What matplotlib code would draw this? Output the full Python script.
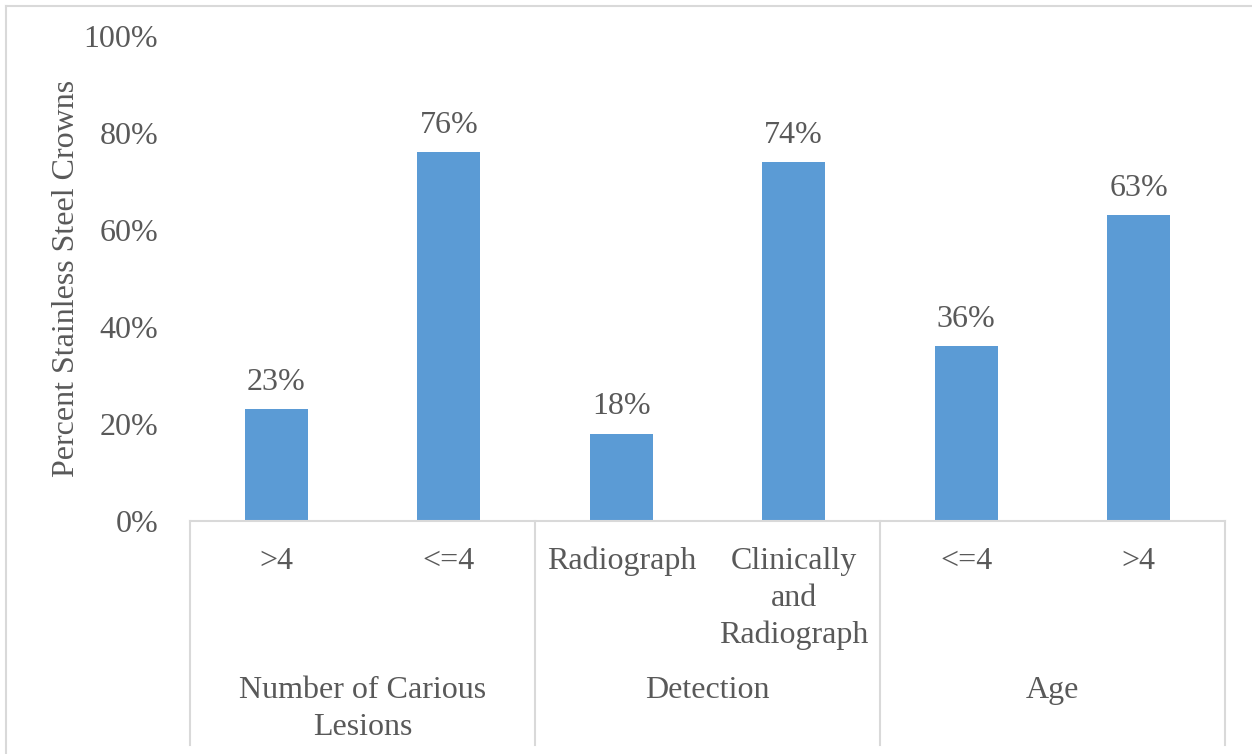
import matplotlib.pyplot as plt
from matplotlib.transforms import blended_transform_factory

plt.rcParams['font.family'] = ['Liberation Serif', 'DejaVu Serif']

groups = ["Number of Carious\nLesions", "Detection", "Age"]
categories = [">4", "<=4", "Radiograph", "Clinically\nand\nRadiograph", "<=4", ">4"]
values = [0.23, 0.76, 0.18, 0.74, 0.36, 0.63]
per_group = 2
yticks = [0, 0.2, 0.4, 0.6, 0.8, 1.0]

bar_color = "#5B9BD5"
text_color = "#595959"
line_color = "#D9D9D9"
fs = 23

W, H = 1252, 754
fig = plt.figure(figsize=(W / 100, H / 100), dpi=100)
left, right, top, bottom = 190, 1225, 36, 521
ax = fig.add_axes([left / W, 1 - bottom / H, (right - left) / W, (bottom - top) / H])

x = list(range(len(categories)))
ax.bar(x, values, width=0.365, color=bar_color, zorder=2)
ax.set_xlim(-0.5, len(categories) - 0.5)
ax.set_ylim(0, 1)

ax.set_yticks(yticks)
ax.set_yticklabels([f"{int(round(t * 100))}%" for t in yticks], fontsize=fs, color=text_color)
ax.tick_params(axis='y', length=0, pad=23)
ax.set_xticks([])
for s in ax.spines.values():
    s.set_visible(False)

ax.set_ylabel("Percent Stainless Steel Crowns", fontsize=fs, color=text_color, labelpad=2)

# value labels over each bar
for xi, v in zip(x, values):
    ax.annotate(f"{int(round(v * 100))}%", (xi, v), xytext=(0, 14), textcoords='offset points',
                ha='center', va='baseline', fontsize=fs, color=text_color)

# two-level category axis
px = lambda y: (bottom - y) / (bottom - top)
trans = blended_transform_factory(ax.transData, ax.transAxes)
ax.plot([-0.5, len(categories) - 0.5], [0, 0], transform=trans, color=line_color,
        lw=1.5, clip_on=False, zorder=3)
for g in range(len(groups) + 1):
    xb = g * per_group - 0.5
    ax.plot([xb, xb], [0, px(745)], transform=trans, color=line_color, lw=1.5, clip_on=False)

line_step = 37


def multiline(xc, y0, label):
    for i, part in enumerate(label.split("\n")):
        ax.text(xc, px(y0 + i * line_step), part, transform=trans, ha='center',
                va='baseline', fontsize=fs, color=text_color)


for xi, c in zip(x, categories):
    multiline(xi, 569, c)
for g, name in enumerate(groups):
    multiline(g * per_group + (per_group - 1) / 2, 698, name)

# outer chart frame
fig.add_artist(plt.Line2D([6 / W, 1], [1 - 6 / H, 1 - 6 / H], color=line_color, lw=1.5))
fig.add_artist(plt.Line2D([6 / W, 6 / W], [0, 1 - 6 / H], color=line_color, lw=1.5))

fig.savefig("out.png", dpi=100)
